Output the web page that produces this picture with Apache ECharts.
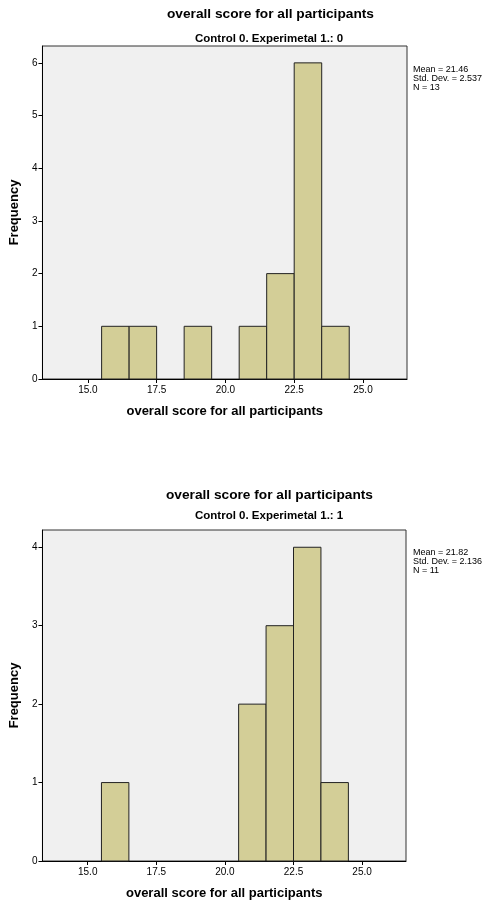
<!DOCTYPE html>
<html>
<head>
<meta charset="utf-8">
<script src="https://cdn.jsdelivr.net/npm/echarts@6/dist/echarts.min.js"></script>
<style>html,body{margin:0;padding:0;background:#fff}#c{width:485px;height:903px}</style>
</head>
<body>
<div id="c"></div>
<script>
// Bins: [start, end, frequency]
const bins0 = [[15.5,16.5,1],[16.5,17.5,1],[18.5,19.5,1],[20.5,21.5,1],[21.5,22.5,2],[22.5,23.5,6],[23.5,24.5,1]];
const bins1 = [[15.5,16.5,1],[20.5,21.5,2],[21.5,22.5,3],[22.5,23.5,4],[23.5,24.5,1]];
const xTicks = [15, 17.5, 20, 22.5, 25];
const yTicks0 = [0,1,2,3,4,5,6];
const yTicks1 = [0,1,2,3,4];
const stats0 = ['Mean = 21.46','Std. Dev. = 2.537','N = 13'];
const stats1 = ['Mean = 21.82','Std. Dev. = 2.136','N = 11'];
const mainTitle = 'overall score for all participants';
const sub0 = 'Control 0. Experimetal 1.: 0';
const sub1 = 'Control 0. Experimetal 1.: 1';
const xName = 'overall score for all participants';
const yName = 'Frequency';

const FONT = 'Liberation Sans, Arial, sans-serif';
const chart = echarts.init(document.getElementById('c'), null, {renderer:'canvas'});

function xAxis(gi){
  return {
    type:'value', gridIndex:gi, min:13.35, max:26.6,
    name:xName, nameLocation:'middle', nameGap:26,
    nameTextStyle:{fontFamily:FONT, fontSize:13, fontWeight:'bold', color:'#000'},
    axisLine:{show:true, lineStyle:{color:'#000', width:1}},
    axisTick:{show:true, length:4, lineStyle:{color:'#000'}, customValues:xTicks},
    axisLabel:{fontFamily:FONT, fontSize:10, color:'#000', margin:6, customValues:xTicks,
      formatter:v=>v.toFixed(1)},
    splitLine:{show:false}
  };
}
function yAxis(gi, max, ticks){
  return {
    type:'value', gridIndex:gi, min:0, max:max,
    name:yName, nameLocation:'middle', nameGap:16,
    nameTextStyle:{fontFamily:FONT, fontSize:13, fontWeight:'bold', color:'#000'},
    axisLine:{show:true, lineStyle:{color:'#000', width:1}},
    axisTick:{show:true, length:4, lineStyle:{color:'#000'}, customValues:ticks},
    axisLabel:{fontFamily:FONT, fontSize:10, color:'#000', margin:5, customValues:ticks},
    splitLine:{show:false}
  };
}
function series(gi, data){
  return {
    type:'custom', xAxisIndex:gi, yAxisIndex:gi, data:data,
    renderItem:function(params, api){
      const p0 = api.coord([api.value(0), api.value(2)]);
      const p1 = api.coord([api.value(1), 0]);
      return {type:'rect', shape:{x:p0[0], y:p0[1], width:p1[0]-p0[0], height:p1[1]-p0[1]},
        style:{fill:'#d3ce97', stroke:'#222', lineWidth:1}};
    },
    encode:{x:[0,1], y:2}
  };
}
function statText(top, lines){
  return {type:'text', left:413, top:top, style:{text:lines.join('\n'), font:'9px '+FONT, fill:'#000', lineHeight:9}};
}
const tStyle = {fontFamily:FONT, fontSize:13.7, fontWeight:'bold', color:'#000'};
const sStyle = {fontFamily:FONT, fontSize:11.5, fontWeight:'bold', color:'#000'};

chart.setOption({
  animation:false,
  backgroundColor:'#fff',
  title:[
    {text:mainTitle, top:2, left:162, textStyle:tStyle},
    {text:sub0, top:28, left:190, textStyle:sStyle},
    {text:mainTitle, top:483, left:161, textStyle:tStyle},
    {text:sub1, top:505, left:190, textStyle:sStyle}
  ],
  grid:[
    {left:42, top:46, width:365, height:333, show:true, backgroundColor:'#f0f0f0', borderColor:'#333', borderWidth:1},
    {left:42, top:530, width:364, height:331, show:true, backgroundColor:'#f0f0f0', borderColor:'#333', borderWidth:1}
  ],
  xAxis:[xAxis(0), xAxis(1)],
  yAxis:[yAxis(0, 6.32, yTicks0), yAxis(1, 4.22, yTicks1)],
  series:[series(0, bins0), series(1, bins1)],
  graphic:[statText(65, stats0), statText(548, stats1)]
});
</script>
</body>
</html>
